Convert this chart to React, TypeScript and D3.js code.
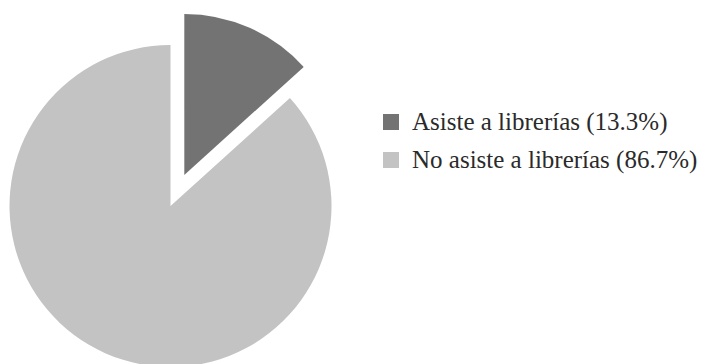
import React from "react";
import * as d3 from "d3";

const categories = ["Asiste a librerías", "No asiste a librerías"];
const values = [13.3, 86.7];
const colors = ["#737373", "#c3c3c3"];
const explode = [34, 0];

export default function App() {
  const width = 709, height = 364;
  const cx = 170.5, cy = 206, r = 161;
  const pie = d3.pie<number>().sort(null).value((d) => d);
  const arcs = pie(values);
  const arc = d3.arc<d3.PieArcDatum<number>>().innerRadius(0).outerRadius(r);
  return (
    <svg width={width} height={height} style={{ position: "absolute", left: 0, top: 0 }}>
      <g transform={`translate(${cx},${cy})`}>
        {arcs.map((a, i) => {
          const mid = (a.startAngle + a.endAngle) / 2;
          const dx = Math.sin(mid) * explode[i];
          const dy = -Math.cos(mid) * explode[i];
          return <path key={i} d={arc(a) || ""} fill={colors[i]} transform={`translate(${dx},${dy})`} />;
        })}
      </g>
      <g transform="translate(383,114)">
        {categories.map((c, i) => (
          <g key={i} transform={`translate(0,${i * 38})`}>
            <rect x={0} y={0} width={16} height={16} fill={colors[i]} />
            <text x={29} y={16} fontFamily="'Liberation Serif', serif" fontSize={25} fill="#2a2a2a">
              {`${c} (${values[i].toFixed(1)}%)`}
            </text>
          </g>
        ))}
      </g>
    </svg>
  );
}
